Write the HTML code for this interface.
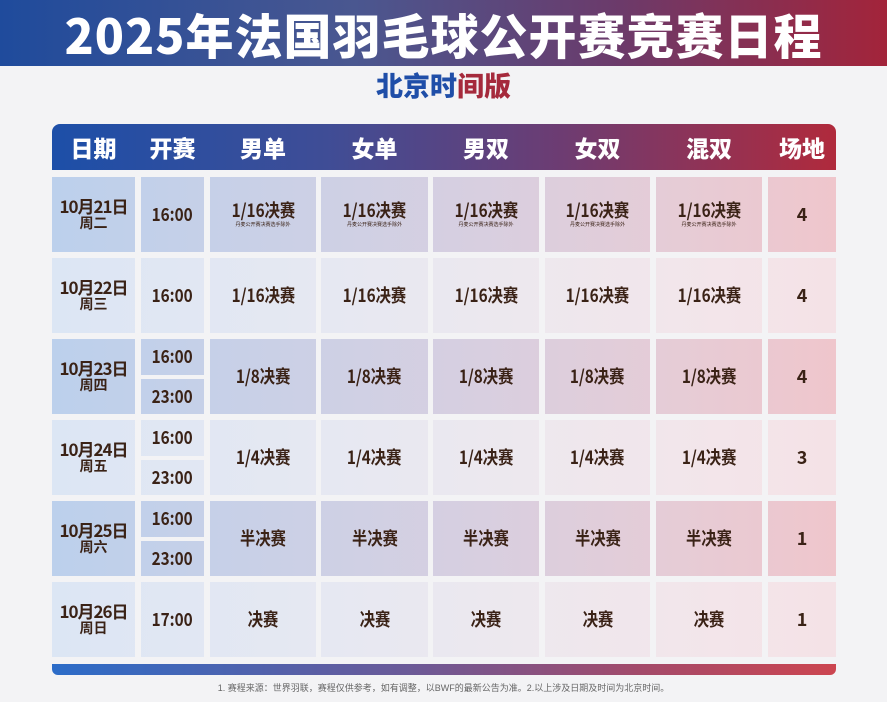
<!DOCTYPE html>
<html><head><meta charset="utf-8"><style>
body{margin:0;width:887px;height:702px;overflow:hidden;background:#f3f3f5;font-family:"Liberation Sans","Noto Sans CJK SC",sans-serif;position:relative}
.hd{position:absolute;left:0;top:0;width:887px;height:66px;background:linear-gradient(90deg,#1f4b9c,#4a5790 40%,#6c3a6a 70%,#a3243a);color:#fff;font-weight:900;font-size:48px;text-align:center;line-height:66px;letter-spacing:1px;font-family:"Noto Sans CJK SC",sans-serif}
.sub{position:absolute;top:66px;width:887px;text-align:center;font-weight:900;font-size:27px;line-height:38px;font-family:"Noto Sans CJK SC",sans-serif}
.sub b{color:#1f4ea8}.sub i{font-style:normal;color:#a52a3c}
.th{position:absolute;left:52px;top:124px;width:784px;height:46px;border-radius:8px 8px 0 0;background:linear-gradient(90deg,#1d4fa8,#3f4d96 35%,#6d3c72 65%,#b02a3c)}
.th span{position:absolute;top:0;line-height:46px;color:#fff;font-weight:900;font-size:23px;font-family:"Noto Sans CJK SC",sans-serif;text-align:center}
.c{position:absolute;display:flex;flex-direction:column;align-items:center;justify-content:center;color:#3a2216;font-weight:700;font-size:18px;font-family:"Noto Sans CJK SC",sans-serif;background-size:784px 100%;line-height:1.1}
.o{background-image:linear-gradient(90deg,#bcd0ec,#cbd0e6 30%,#d8cfe0 55%,#e6ccd6 80%,#efc6cc)}
.e{background-image:linear-gradient(90deg,#dce6f4,#e6e8f2 35%,#ede8ee 60%,#f3e5ea 85%,#f4e2e6)}
.c small{font-size:5px;font-weight:400;margin-top:1px}
.c > span{display:inline-block;transform:scaleX(.85)}
.d{font-size:17px;letter-spacing:-1px}.d em{font-style:normal;font-size:14px;letter-spacing:0}
.bar{position:absolute;left:52px;top:664px;width:784px;height:11px;border-radius:0 0 6px 6px;background:linear-gradient(90deg,#2c6cc8,#6a5a98 45%,#a34a6a 75%,#cc4550)}
.fn{position:absolute;top:681px;width:887px;text-align:center;font-size:9px;color:#666}
</style></head><body>
<div class="hd">2025年法国羽毛球公开赛竞赛日程</div>
<div class="sub"><b>北京</b><b>时</b><i>间版</i></div>
<div class="th">
<span style="left:0;width:83px">日期</span><span style="left:89px;width:63px">开赛</span><span style="left:158px;width:106px">男单</span><span style="left:269px;width:107px">女单</span><span style="left:381px;width:106px">男双</span><span style="left:493px;width:105px">女双</span><span style="left:604px;width:106px">混双</span><span style="left:716px;width:68px">场地</span>
</div>
<div id="t"></div>
<div class="bar"></div>
<div class="fn">1. 赛程来源：世界羽联，赛程仅供参考，如有调整，以BWF的最新公告为准。2.以上涉及日期及时间为北京时间。</div>
<script>
const cols=[[52,135],[141,204],[210,316],[321,428],[433,539],[545,650],[656,762],[768,836]];
const rows=[177,258,339,420,501,582];
const data=[
["10月21日","周二",["16:00"],"1/16决赛",true,"4"],
["10月22日","周三",["16:00"],"1/16决赛",false,"4"],
["10月23日","周四",["16:00","23:00"],"1/8决赛",false,"4"],
["10月24日","周五",["16:00","23:00"],"1/4决赛",false,"3"],
["10月25日","周六",["16:00","23:00"],"半决赛",false,"1"],
["10月26日","周日",["17:00"],"决赛",false,"1"]];
let h="";
data.forEach((r,i)=>{const y=rows[i],H=75,cl=i%2==0?"o":"e";
const cell=(c,yy,hh,txt,ex)=>`<div class="c ${cl} ${ex||""}" style="left:${cols[c][0]}px;top:${yy}px;width:${cols[c][1]-cols[c][0]}px;height:${hh}px;background-position:${52-cols[c][0]}px 0">${txt}</div>`;
h+=cell(0,y,H,`<div>${r[0]}</div><em>${r[1]}</em>`,"d");
if(r[2].length==1)h+=cell(1,y,H,`<span>${r[2][0]}</span>`);else{h+=cell(1,y,36,`<span>${r[2][0]}</span>`);h+=cell(1,y+40,35,`<span>${r[2][1]}</span>`);}
for(let c=2;c<7;c++)h+=cell(c,y,H,`<span>${r[3]}</span>`+(r[4]?"<small>丹麦公开赛决赛选手除外</small>":""));
h+=cell(7,y,H,r[5]);});
document.getElementById("t").innerHTML=h;
</script>
</body></html>
